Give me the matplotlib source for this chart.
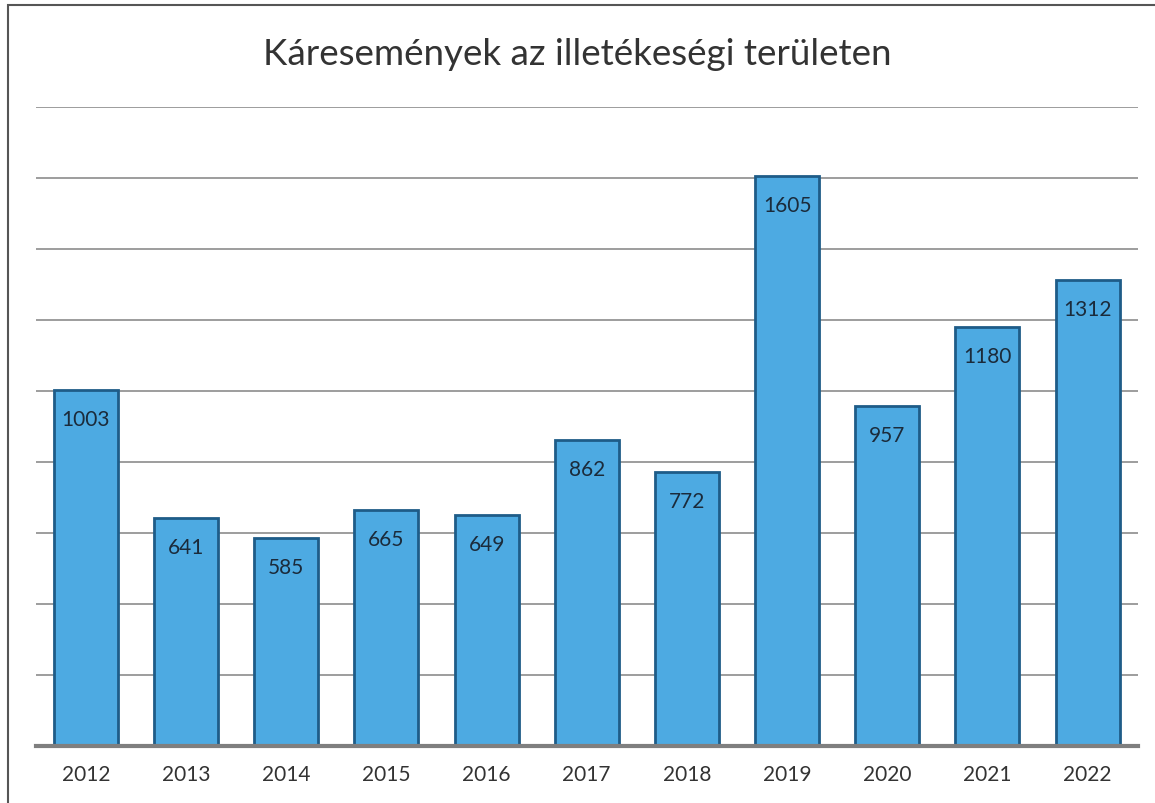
import matplotlib
matplotlib.use("Agg")
import matplotlib.pyplot as plt
from matplotlib.patches import Rectangle

years = ["2012", "2013", "2014", "2015", "2016", "2017", "2018", "2019", "2020", "2021", "2022"]
values = [1003, 641, 585, 665, 649, 862, 772, 1605, 957, 1180, 1312]
title = "Káresemények az illetékeségi területen"

plt.rcParams['font.family'] = ['Lato', 'DejaVu Sans']

fig = plt.figure(figsize=(11.55, 8.04), dpi=100)
ax = fig.add_axes([0.031, 0.071, 0.954, 0.795])

x = list(range(len(years)))
ax.bar(x, values, width=0.64, color="#4DAAE2", edgecolor="#1E5C88", linewidth=2, zorder=3)
for xi, v in zip(x, values):
    ax.annotate(str(v), (xi, v), xytext=(0, -29), textcoords="offset pixels",
                ha="center", va="center", fontsize=15, color="#1B2B3B", zorder=4)

ax.set_xlim(-0.5, len(years) - 0.5)
ax.set_ylim(0, 1800)
ax.set_yticks(range(200, 1801, 200))
ax.yaxis.grid(True, color="#8C8C8C", linewidth=1.2, zorder=0)
ax.set_yticklabels([])
ax.tick_params(axis="y", length=0)
ax.set_xticks(x)
ax.set_xticklabels(years, fontsize=15, color="#333333")
ax.tick_params(axis="x", length=0, pad=13)
for s in ["top", "right", "left"]:
    ax.spines[s].set_visible(False)
ax.spines["bottom"].set_color("#7F7F7F")
ax.spines["bottom"].set_linewidth(3)
ax.spines["bottom"].set_zorder(5)

fig.text(0.5, 0.932, title, ha="center", va="center", fontsize=26.5, color="#333333")

fig.patches.append(Rectangle((0.007, -0.01), 1.1, 1.0 - 0.007 + 0.01, transform=fig.transFigure,
                             fill=False, edgecolor="#555555", linewidth=1.5))

fig.savefig("out.png", dpi=100)
